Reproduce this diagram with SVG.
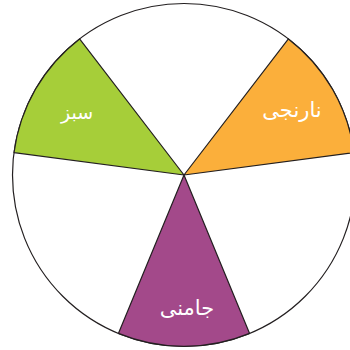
<svg xmlns="http://www.w3.org/2000/svg" width="350" height="350" viewBox="0 0 350 350">
<style>
.sec{stroke:#231f20;stroke-width:1.2;stroke-linejoin:round}
.lbl{font-family:"DejaVu Sans","Noto Sans",sans-serif;fill:#fff;text-anchor:middle;direction:rtl}
</style>
<rect width="350" height="350" fill="#fff"/>
<circle cx="184" cy="175" r="171.5" fill="#fff" stroke="#231f20" stroke-width="1.2"/>
<g id="orange">
<path class="sec" d="M184,175 L288.4,38.9 A171.5,171.5 0 0 1 354,152.6 Z" fill="#fbaf3b"/>
<text class="lbl" x="292" y="117" font-size="21">نارنجی</text>
</g>
<g id="green">
<path class="sec" d="M184,175 L14,152.6 A171.5,171.5 0 0 1 79.6,38.9 Z" fill="#a6ce39"/>
<text class="lbl" x="77" y="119" font-size="19">سبز</text>
</g>
<g id="purple">
<path class="sec" d="M184,175 L249.6,333.4 A171.5,171.5 0 0 1 118.4,333.4 Z" fill="#a3498a"/>
<text class="lbl" x="187" y="315" font-size="21">جامنی</text>
</g>
<g id="connectors"/>
</svg>
